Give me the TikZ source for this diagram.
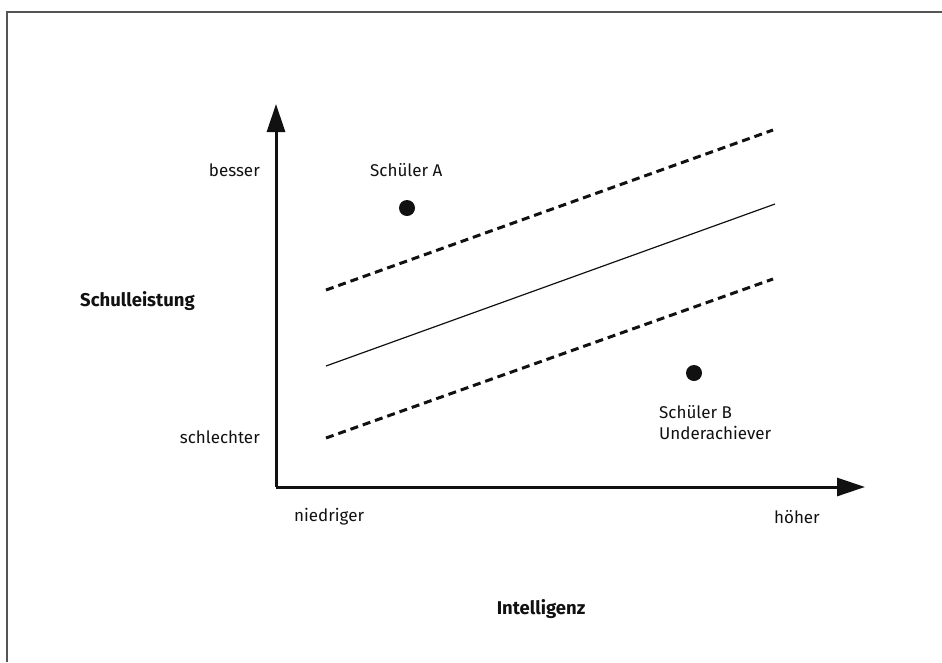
\documentclass[tikz,border=0pt]{standalone}
\usepackage{fontspec}
\setmainfont{Fira Sans}
\usetikzlibrary{arrows.meta}
\definecolor{framegray}{HTML}{555555}
\definecolor{ink}{HTML}{111111}
\tikzset{
  axis/.style={line width=3pt, draw=ink, -{Triangle[length=28pt,width=18pt]}},
  guide/.style={line width=3pt, draw=ink, dash pattern=on 8pt off 5pt},
  trend/.style={line width=1.2pt, draw=ink},
  pt/.style={circle, fill=ink, inner sep=0pt, minimum size=16pt},
  lbl/.style={font=\fontsize{17}{21}\selectfont, text=ink, inner sep=0pt},
  blbl/.style={lbl, font=\fontsize{18.5}{22}\selectfont\bfseries},
}
\begin{document}
\begin{tikzpicture}[x=1pt,y=-1pt]
\useasboundingbox (0,0) rectangle (942,662);
\draw[framegray, line width=1.6pt] (7,662) -- (7,12) -- (942,12);
\coordinate (O) at (276,487);
\coordinate (Ytip) at (276,104);
\coordinate (Xtip) at (865,487);
\draw[axis] (O) -- (Ytip);
\draw[axis] (O) -- (Xtip);
\coordinate (u1) at (326,290); \coordinate (u2) at (773,130);
\coordinate (m1) at (326,366); \coordinate (m2) at (775,204);
\coordinate (l1) at (326,438); \coordinate (l2) at (773,279);
\draw[guide] (u1) -- (u2);
\draw[trend] (m1) -- (m2);
\draw[guide] (l1) -- (l2);
\node[pt] (A) at (407,208) {};
\node[pt] (B) at (694,373) {};
\node[lbl, anchor=west] (tA) at (370,170) {Schüler A};
\node[lbl, anchor=north west, align=left] (tB) at (659,405) {Schüler B\\Underachiever};
\node[lbl, anchor=east] (besser) at (260,170) {besser};
\node[lbl, anchor=east] (schlechter) at (260,437) {schlechter};
\node[blbl, anchor=west] (sl) at (80,301) {Schulleistung};
\node[lbl, anchor=west] (nied) at (294,517) {niedriger};
\node[lbl, anchor=east] (hoeh) at (820,517) {höher};
\node[blbl] (int) at (541,609) {Intelligenz};
\end{tikzpicture}
\end{document}
